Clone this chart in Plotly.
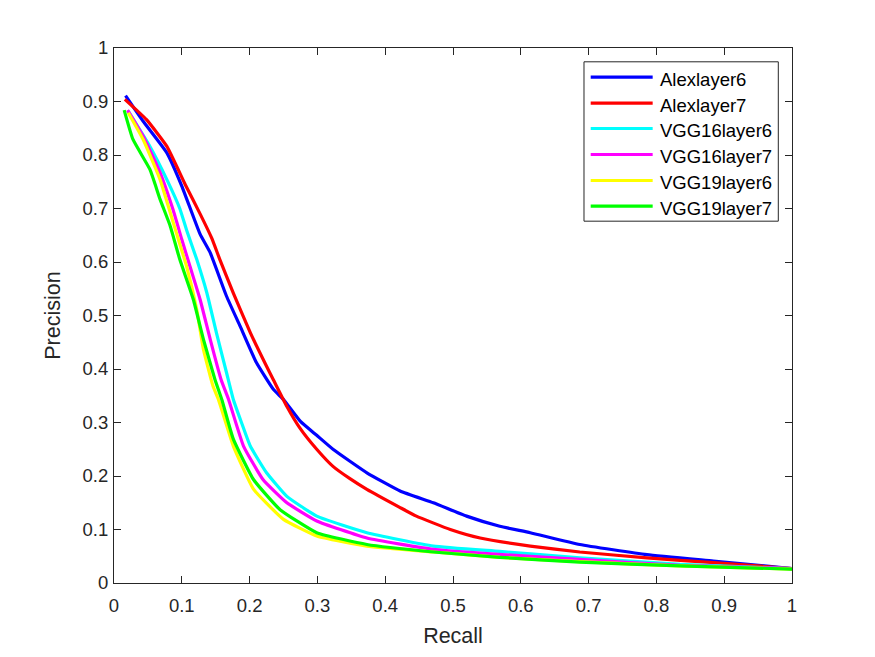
import plotly.graph_objects as go

names = ["Alexlayer6", "Alexlayer7", "VGG16layer6", "VGG16layer7", "VGG19layer6", "VGG19layer7"]
colors = ["#0000ff", "#ff0000", "#00ffff", "#ff00ff", "#ffff00", "#00ff00"]

alex6_x = [0.017, 0.043, 0.078, 0.100, 0.127, 0.142, 0.166, 0.186, 0.210, 0.235, 0.250, 0.275, 0.299, 0.323, 0.373, 0.422, 0.471, 0.520, 0.569, 0.614, 0.687, 0.786, 0.884, 1.0]
alex6_y = [0.911, 0.863, 0.804, 0.742, 0.652, 0.617, 0.536, 0.480, 0.412, 0.362, 0.343, 0.302, 0.276, 0.250, 0.206, 0.172, 0.150, 0.125, 0.106, 0.094, 0.072, 0.053, 0.041, 0.027]

alex7_x = [0.016, 0.048, 0.078, 0.105, 0.127, 0.144, 0.156, 0.176, 0.201, 0.225, 0.235, 0.255, 0.274, 0.299, 0.323, 0.348, 0.373, 0.422, 0.446, 0.496, 0.540, 0.614, 0.687, 0.786, 0.884, 1.0]
alex7_y = [0.904, 0.866, 0.816, 0.745, 0.690, 0.645, 0.605, 0.542, 0.468, 0.405, 0.380, 0.330, 0.290, 0.250, 0.218, 0.195, 0.175, 0.141, 0.125, 0.100, 0.084, 0.069, 0.058, 0.047, 0.038, 0.027]

vgg16_6_x = [0.021, 0.053, 0.078, 0.097, 0.107, 0.122, 0.137, 0.151, 0.166, 0.176, 0.188, 0.201, 0.225, 0.255, 0.299, 0.373, 0.471, 0.569, 0.687, 0.835, 1.0]
vgg16_6_y = [0.882, 0.816, 0.754, 0.700, 0.660, 0.605, 0.542, 0.468, 0.393, 0.343, 0.300, 0.256, 0.206, 0.162, 0.125, 0.094, 0.069, 0.059, 0.047, 0.035, 0.027]

vgg16_7_x = [0.020, 0.043, 0.068, 0.087, 0.100, 0.112, 0.127, 0.142, 0.158, 0.169, 0.191, 0.220, 0.255, 0.299, 0.373, 0.471, 0.540, 0.687, 0.835, 1.0]
vgg16_7_y = [0.884, 0.835, 0.767, 0.698, 0.642, 0.592, 0.530, 0.455, 0.380, 0.343, 0.256, 0.193, 0.150, 0.116, 0.084, 0.063, 0.056, 0.044, 0.033, 0.027]

vgg19_6_x = [0.021, 0.043, 0.068, 0.083, 0.095, 0.107, 0.122, 0.132, 0.146, 0.154, 0.176, 0.206, 0.250, 0.299, 0.373, 0.471, 0.569, 0.687, 0.835, 1.0]
vgg19_6_y = [0.879, 0.829, 0.754, 0.692, 0.642, 0.592, 0.511, 0.436, 0.368, 0.343, 0.256, 0.175, 0.119, 0.088, 0.069, 0.058, 0.048, 0.040, 0.032, 0.026]

vgg19_7_x = [0.015, 0.028, 0.053, 0.068, 0.083, 0.097, 0.117, 0.132, 0.149, 0.159, 0.176, 0.206, 0.245, 0.299, 0.373, 0.471, 0.569, 0.687, 0.835, 1.0]
vgg19_7_y = [0.884, 0.829, 0.773, 0.717, 0.667, 0.605, 0.530, 0.455, 0.380, 0.343, 0.269, 0.193, 0.137, 0.094, 0.072, 0.058, 0.048, 0.039, 0.032, 0.026]

series = [(alex6_x, alex6_y), (alex7_x, alex7_y), (vgg16_6_x, vgg16_6_y),
          (vgg16_7_x, vgg16_7_y), (vgg19_6_x, vgg19_6_y), (vgg19_7_x, vgg19_7_y)]

tick_vals = [i / 10 for i in range(11)]
tick_text = ["0", "0.1", "0.2", "0.3", "0.4", "0.5", "0.6", "0.7", "0.8", "0.9", "1"]

fig = go.Figure()
for (xs, ys), name, c in zip(series, names, colors):
    fig.add_trace(go.Scatter(x=xs, y=ys, mode="lines", name=name, showlegend=False,
                             line=dict(color=c, width=3.2, shape="spline", smoothing=0.4)))

font = "Liberation Sans, Arial, Helvetica, sans-serif"
axis_common = dict(range=[0, 1], tickvals=tick_vals, ticktext=tick_text,
                   showline=True, mirror="ticks", linecolor="#262626", linewidth=1,
                   ticks="inside", ticklen=7, tickcolor="#262626", tickwidth=1,
                   showgrid=False, zeroline=False, automargin=False,
                   tickfont=dict(family=font, size=18.5, color="#262626"))

fig.update_layout(
    width=875, height=657,
    margin=dict(l=114, r=83, t=48, b=74),
    paper_bgcolor="white", plot_bgcolor="white",
    font=dict(family=font, color="#262626"),
    xaxis=dict(**axis_common, ticklabelstandoff=6,
               title=dict(text="Recall", font=dict(size=21.5, family=font, color="#262626"), standoff=12)),
    yaxis=dict(**axis_common, ticklabelstandoff=1,
               title=dict(text="Precision", font=dict(size=21.5, family=font, color="#262626"), standoff=16)),
    showlegend=False,
)

# Legend box (drawn in paper coordinates, MATLAB-style long line samples)
box_x0, box_x1, box_y0, box_y1 = 0.6932, 0.9798, 0.6763, 0.9742
fig.add_shape(type="rect", xref="paper", yref="paper", x0=box_x0, x1=box_x1, y0=box_y0, y1=box_y1,
              line=dict(color="#262626", width=1), fillcolor="white", layer="above")
row_y = [0.9454, 0.8968, 0.8495, 0.8009, 0.7523, 0.7043]
for name, c, ry in zip(names, colors, row_y):
    fig.add_shape(type="line", xref="paper", yref="paper", x0=0.7031, x1=0.7945, y0=ry, y1=ry,
                  line=dict(color=c, width=3.2), layer="above")
    fig.add_annotation(xref="paper", yref="paper", x=0.8024, y=ry - 0.0034, text=name,
                       showarrow=False, xanchor="left", yanchor="middle",
                       font=dict(family=font, size=18.5, color="black"))

fig.write_html("out.html")
